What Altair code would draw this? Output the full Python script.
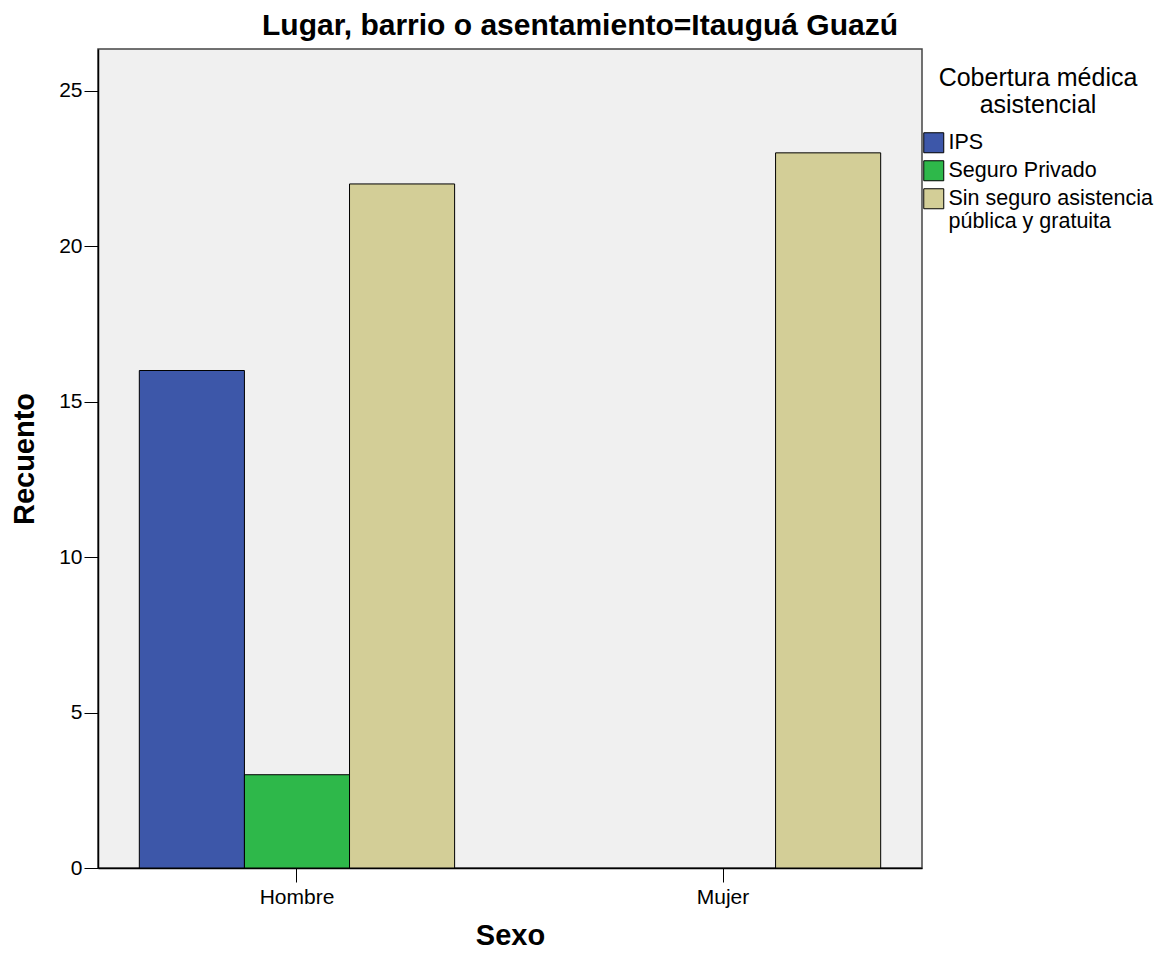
import altair as alt
import pandas as pd

# ---- data ----
sexos = ["Hombre", "Mujer"]
categorias = ["IPS", "Seguro Privado", "Sin seguro asistencia pública y gratuita"]
colores = ["#3D57A9", "#2EB84A", "#D3CE97"]

sexo = ["Hombre", "Hombre", "Hombre", "Mujer", "Mujer", "Mujer"]
cobertura = categorias * 2
recuento = [16, 3, 22, 0, 0, 23]
y_ticks = [0, 5, 10, 15, 20, 25]

df = pd.DataFrame({"Sexo": sexo, "Cobertura": cobertura, "Recuento": recuento})

FONT = "Liberation Sans"

label_expr = ("datum.label == 'Sin seguro asistencia pública y gratuita' ? "
              "['Sin seguro asistencia', 'pública y gratuita'] : datum.label")

chart = (
    alt.Chart(df)
    .transform_filter("datum.Recuento > 0")
    .mark_bar(stroke="#000", strokeWidth=1, opacity=1)
    .encode(
        x=alt.X(
            "Sexo:N",
            scale=alt.Scale(domain=sexos, paddingInner=0.26, paddingOuter=0.097),
            axis=alt.Axis(
                title="Sexo", labelAngle=0, tickSize=14, labelPadding=4,
                labelFontSize=21, labelFont=FONT, labelColor="#000",
                tickColor="#000", domainColor="#000", domainWidth=1.5,
                titleFontSize=29, titleFont=FONT, titleFontWeight="bold",
                titleColor="#000", titleX=412, titleY=76,
                titleBaseline="alphabetic", titleAlign="center",
            ),
        ),
        xOffset=alt.XOffset(
            "Cobertura:N",
            scale=alt.Scale(domain=categorias, paddingInner=0, paddingOuter=0),
        ),
        y=alt.Y(
            "Recuento:Q",
            scale=alt.Scale(domain=[0, 26.34], nice=False),
            axis=alt.Axis(
                title="Recuento", values=y_ticks, grid=False, tickSize=14,
                labelPadding=2, labelFontSize=21, labelFont=FONT,
                labelColor="#000", tickColor="#000", domainColor="#000",
                domainWidth=1.5,
                titleFontSize=29, titleFont=FONT, titleFontWeight="bold",
                titleColor="#000", titleX=-65, titleY=409.5, titleAngle=270,
                titleBaseline="alphabetic", titleAlign="center",
            ),
        ),
        fill=alt.Fill(
            "Cobertura:N",
            scale=alt.Scale(domain=categorias, range=colores),
            legend=alt.Legend(
                title=["Cobertura médica", "asistencial"],
                orient="none", legendX=825, legendY=17, padding=0,
                titleFontSize=25, titleFont=FONT, titleFontWeight="normal",
                titleColor="#000", titleAnchor="middle", titleAlign="center",
                titlePadding=14, titleLineHeight=27, titleLimit=400,
                labelFontSize=21.5, labelFont=FONT, labelColor="#000",
                labelLimit=400, labelOffset=4, labelExpr=label_expr,
                symbolType="square", symbolSize=400, symbolStrokeColor="#000",
                symbolStrokeWidth=1, symbolOpacity=1, rowPadding=3,
            ),
        ),
    )
    .properties(
        width=824,
        height=819,
        background="white",
        autosize=alt.AutoSizeParams(type="none"),
        padding={"left": 90, "top": 41, "right": 235, "bottom": 82},
        title=alt.TitleParams(
            text="Lugar, barrio o asentamiento=Itauguá Guazú",
            fontSize=30, font=FONT, fontWeight="bold", color="#000",
            anchor="middle", dx=70, dy=33, offset=17, baseline="alphabetic",
        ),
    )
    .configure_view(fill="#F0F0F0", stroke="#444", strokeWidth=1.5)
)

chart.save("out.html", embed_options={"renderer": "svg", "actions": False})
